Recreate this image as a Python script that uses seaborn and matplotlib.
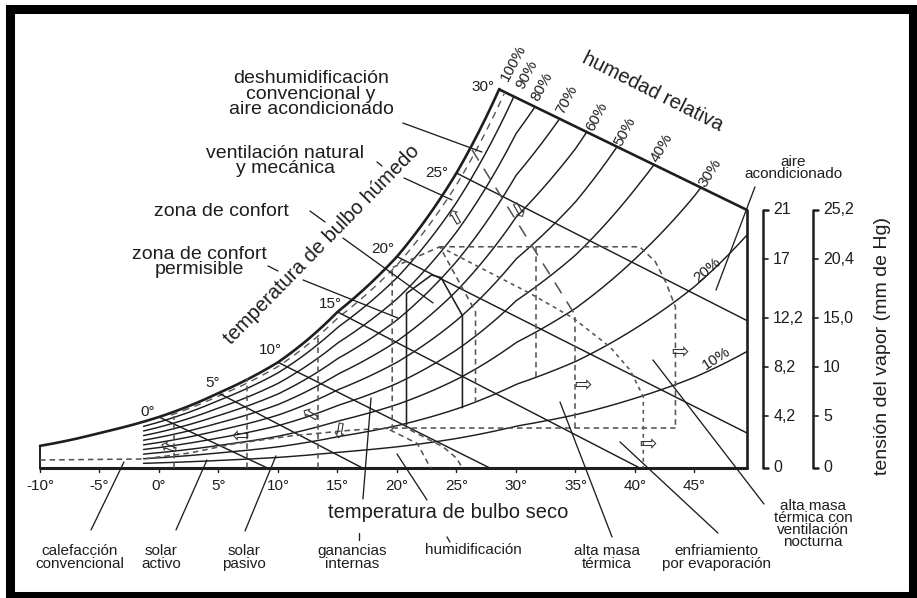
import numpy as np
import pandas as pd
import matplotlib
matplotlib.use("Agg")
import matplotlib.pyplot as plt
from matplotlib.patches import Rectangle
import seaborn as sns

sat_t = [-10, -5, 0, 5, 10, 15, 20, 25, 30, 35, 40, 45, 50]
sat_w = [1.8, 2.85, 4.15, 6.1, 8.6, 12.7, 17.2, 24.0, 34.0, 43.3, 56.7, 73.8, 98.0]

rh_levels = [10, 20, 30, 40, 50, 60, 70, 80, 90]

# límites del ábaco
t_min, t_max = -10, 49.4
corner_t, corner_w = 28.6, 30.8
right_top_w = 21.0
rh_start_t = -1.3

# líneas de bulbo húmedo: temperatura y punto final
wb_t = [0, 5, 10, 15, 20, 25]
wb_end_t = [9.1, 17.1, 27.8, 40.4, 49.4, 49.4]
wb_end_w = [0, 0, 0, 0, 2.85, 12.0]

# zonas
comfort_t = [20.8, 20.8, 22.9, 23.7, 25.5, 25.5]
comfort_w = [3.5, 14.2, 15.7, 15.5, 12.4, 4.9]
perm_t = [19.6, 19.6, 23.6, 26.6, 26.6]
perm_w = [3.1, 16.3, 18.0, 12.7, 5.3]
vent_t = [23.6, 40.4, 41.7, 42.6, 43.4, 43.4]
vent_w = [18.0, 18.0, 16.8, 15.1, 13.1, 3.25]
low_t = [-10, -1.3, 2.6, 6.2, 11.0, 16.3, 19.7, 43.4]
low_w = [0.65, 0.73, 1.22, 1.95, 2.6, 3.09, 3.25, 3.25]
evap_t = [23.6, 31.2, 34.8, 37.9, 39.6, 40.7, 40.7]
evap_w = [18.0, 14.2, 12.2, 9.85, 7.95, 5.8, 0]
mass_t = [26.3, 35.0]
mass_w = [25.9, 12.4]
vline_t = [1.3, 7.4, 13.4, 31.7, 35.0]
vline_lo = [0, 0, 0, 7.4, 3.25]
vline_hi = [4.2, 7.3, 10.8, 18.0, 12.4]
hum1_t = [19.4, 21.7, 22.6, 22.9]
hum1_w = [3.1, 2.0, 0.4, 0]
hum2_t = [21.1, 23.9, 25.0, 25.5]
hum2_w = [3.1, 1.7, 0.8, 0]

x_ticks = [-10, -5, 0, 5, 10, 15, 20, 25, 30, 35, 40, 45]
hum_ticks = [0, 4.2, 8.2, 12.2, 17, 21]
hum_labels = ["0", "4,2", "8,2", "12,2", "17", "21"]
vap_labels = ["0", "5", "10", "15,0", "20,4", "25,2"]

sns.set_theme(style="white")
plt.rcParams["font.family"] = ["Liberation Sans", "DejaVu Sans"]
ink = "#1e1e1e"
dash_c = "#555555"


def sat(t):
    return np.exp(np.interp(t, sat_t, np.log(sat_w)))


def top_line(t):
    return corner_w + (right_top_w - corner_w) * (np.asarray(t) - corner_t) / (t_max - corner_t)


fig = plt.figure(figsize=(9.17, 5.98), dpi=100)
ax = fig.add_axes([0, 0, 1, 1])

# curvas de humedad relativa
rows = []
for rh in rh_levels:
    t = np.linspace(rh_start_t, t_max, 1500)
    w = rh / 100 * sat(t)
    keep = w <= top_line(t)
    rows.append(pd.DataFrame({"t": t[keep], "w": w[keep], "rh": rh}))
curves = pd.concat(rows)
sns.lineplot(data=curves, x="t", y="w", units="rh", estimator=None, sort=False,
             color=ink, lw=1.05, ax=ax, legend=False)

# saturación y contorno
ts = np.linspace(t_min, corner_t, 400)
ax.plot(ts, sat(ts), color=ink, lw=1.9)
ax.plot([corner_t, t_max], [corner_w, right_top_w], color=ink, lw=1.9)
ax.plot([t_max, t_max], [0, right_top_w], color=ink, lw=1.9)
ax.plot([t_min, t_min], [0, sat(t_min)], color=ink, lw=1.4)
ax.plot([t_min, t_max], [0, 0], color=ink, lw=2.2)

# curva discontinua junto a la saturación
td = np.linspace(1, 29.5, 400)
wd = 0.96 * sat(td)
k = wd <= top_line(td)
ax.plot(td[k], wd[k], color=dash_c, lw=1.0, dashes=(5, 4))

# bulbo húmedo
for tw, te, we in zip(wb_t, wb_end_t, wb_end_w):
    ax.plot([tw, te], [sat(tw), we], color=ink, lw=1.05)

# zonas
ax.plot(comfort_t, comfort_w, color=ink, lw=1.15)
dash_kw = dict(color=dash_c, lw=1.15, dashes=(3.5, 2.5))
ax.plot(perm_t, perm_w, **dash_kw)
ax.plot(vent_t, vent_w, **dash_kw)
ax.plot(low_t, low_w, **dash_kw)
ax.plot(evap_t, evap_w, color=dash_c, lw=1.15, dashes=(2.5, 2.5))
ax.plot(mass_t, mass_w, color=dash_c, lw=1.15, dashes=(8, 6))
ax.plot(hum1_t, hum1_w, **dash_kw)
ax.plot(hum2_t, hum2_w, **dash_kw)
for t0, lo, hi in zip(vline_t, vline_lo, vline_hi):
    ax.plot([t0, t0], [lo, hi], **dash_kw)

# flechas
for (at, aw, rot) in [(24.9, 20.6, 120), (30.1, 21.0, -60), (0.8, 1.9, 160), (6.8, 2.85, 180),
                      (12.7, 4.6, 150), (15.0, 3.1, -100), (43.8, 9.4, 0), (35.6, 6.75, 0),
                      (41.1, 1.9, 0)]:
    ax.text(at, aw, "\u21e8", fontsize=15, rotation=rot, ha="center", va="center",
            color="#333333", family="DejaVu Sans")

# eje de temperatura seca
for t0 in x_ticks:
    ax.plot([t0, t0], [0, -0.35], color=ink, lw=1.0)
    ax.text(t0, -1.5, f"{t0}°", fontsize=11, ha="center", va="center", color=ink)
ax.text(24.3, -3.66, "temperatura de bulbo seco", fontsize=14.5, ha="center", va="center", color=ink)

# escalas de la derecha
for x0, labels in [(50.76, hum_labels), (54.96, vap_labels)]:
    ax.plot([x0 + 0.42, x0, x0, x0 + 0.42], [21, 21, 0, 0], color=ink, lw=1.8)
    for v, lab in zip(hum_ticks, labels):
        if 0 < v < 21:
            ax.plot([x0, x0 + 0.42], [v, v], color=ink, lw=1.2)
        ax.text(x0 + 0.85, v, lab, fontsize=11.5, ha="left", va="center", color=ink)
ax.text(60.76, 9.93, "tensión del vapor (mm de Hg)", fontsize=14, rotation=90,
        ha="center", va="center", color=ink)

# etiquetas de humedad relativa
for lab, lt, lw_, rot in [("100%", 29.83, 32.95, 62), ("90%", 30.9, 32.0, 62), ("80%", 32.18, 31.0, 62),
                          ("70%", 34.29, 29.94, 62), ("60%", 36.81, 28.56, 62), ("50%", 39.16, 27.34, 62),
                          ("40%", 42.27, 26.04, 60), ("30%", 46.3, 24.0, 58), ("20%", 46.05, 16.11, 40),
                          ("10%", 46.89, 8.95, 33)]:
    ax.text(lt, lw_, lab, fontsize=11, rotation=rot, ha="center", va="center", color=ink)
ax.text(41.51, 30.59, "humedad relativa", fontsize=14.5, rotation=-26.6, ha="center", va="center", color=ink)

# etiquetas de bulbo húmedo
for lab, lt, lw_ in [("0°", -0.92, 4.56), ("5°", 4.54, 6.92), ("10°", 9.33, 9.6), ("15°", 14.37, 13.34),
                     ("20°", 18.82, 17.82), ("25°", 23.36, 24.0), ("30°", 27.23, 31.0)]:
    ax.text(lt, lw_, lab, fontsize=11, ha="center", va="center", color=ink)
ax.text(13.7, 18.14, "temperatura de bulbo húmedo", fontsize=14.5, rotation=45.6,
        ha="center", va="center", color=ink)

# rótulos de estrategias
big = dict(fontsize=14, ha="center", va="center", color=ink, linespacing=0.92)
ax.text(12.77, 30.43, "deshumidificación\nconvencional y\naire acondicionado", **big)
ax.text(10.59, 24.98, "ventilación natural\ny mecánica", **big)
ax.text(5.29, 20.83, "zona de confort", **big)
ax.text(3.36, 16.76, "zona de confort\npermisible", **big)

small = dict(fontsize=11, ha="center", va="center", color=ink, linespacing=0.9)
ax.text(-6.64, -7.32, "calefacción\nconvencional", **small)
ax.text(0.17, -7.32, "solar\nactivo", **small)
ax.text(7.14, -7.32, "solar\npasivo", **small)
ax.text(16.22, -7.32, "ganancias\ninternas", **small)
ax.text(26.39, -6.67, "humidificación", **small)
ax.text(37.65, -7.32, "alta masa\ntérmica", **small)
ax.text(46.81, -7.32, "enfriamiento\npor evaporación", **small)
ax.text(54.96, -4.56, "alta masa\ntérmica con\nventilación\nnocturna", fontsize=11, ha="center",
        va="center", color=ink, linespacing=0.8)
ax.text(53.28, 24.41, "aire\nacondicionado", **small)

# líneas de referencia
leaders = [
    ((20.5, 28.07), (27.14, 25.71)),
    ((18.32, 24.9), (18.74, 24.57)), ((20.59, 23.6), (24.62, 21.81)),
    ((12.69, 20.91), (13.95, 20.02)), ((15.46, 18.71), (23.03, 13.43)),
    ((9.16, 16.44), (10.0, 16.03)), ((12.1, 15.3), (20.08, 12.2)),
    ((-5.71, -5.04), (-2.94, 0.49)),
    ((1.43, -5.04), (4.03, 0.65)),
    ((7.23, -5.13), (9.83, 0.98)),
    ((16.81, -5.29), (16.81, -5.86)), ((17.14, -2.52), (17.82, 5.7)),
    ((24.2, -5.61), (24.45, -6.02)), ((22.52, -2.6), (20.0, 1.14)),
    ((38.07, -5.61), (33.7, 5.37)),
    ((46.97, -5.29), (38.74, 2.12)),
    ((50.84, -2.93), (41.51, 8.79)),
    ((50.08, 22.86), (46.81, 14.48)),
]
for (a, b) in leaders:
    ax.plot([a[0], b[0]], [a[1], b[1]], color=ink, lw=0.95)

ax.set_xlim(-13.36, 63.70)
ax.set_ylim(-10.58, 38.08)
ax.axis("off")

fig.patches.append(Rectangle((9.5 / 917, 2 / 598), (913 - 9.5) / 917, (589 - 2) / 598,
                             transform=fig.transFigure, fill=False, lw=6.5, ec="black"))
fig.savefig("out.png", dpi=100)
